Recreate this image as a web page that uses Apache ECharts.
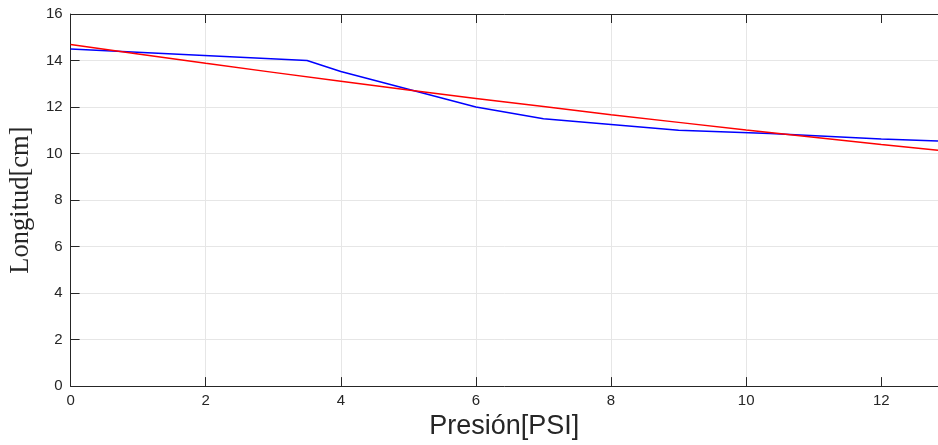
<!DOCTYPE html>
<html>
<head>
<meta charset="utf-8">
<script src="https://cdn.jsdelivr.net/npm/echarts@6/dist/echarts.min.js"></script>
<style>
html,body{margin:0;padding:0;background:#fff;overflow:hidden;}
#chart{width:938px;height:445px;}
</style>
</head>
<body>
<div id="chart"></div>
<script>
// Measured data (blue)
const medidoX = [0, 3.5, 4, 6, 7, 9, 10.35, 12, 12.84];
const medidoY = [14.5, 14.0, 13.53, 12.0, 11.5, 11.0, 10.86, 10.63, 10.54];
// Fitted curve (red)
const ajusteX = [0, 1, 2, 3, 4, 5, 6, 7, 8, 9, 10, 11, 12, 12.84];
const ajusteY = [14.69, 14.28, 13.88, 13.49, 13.11, 12.73, 12.37, 12.02, 11.67, 11.34, 11.01, 10.70, 10.39, 10.14];
const xTicks = [0, 2, 4, 6, 8, 10, 12];
const yTicks = [0, 2, 4, 6, 8, 10, 12, 14, 16];
const xLabel = 'Presión[PSI]';
const yLabel = 'Longitud[cm]';

const axisColor = '#262626';
const gridColor = '#e6e6e6';
const xMax = 12.84;

const chart = echarts.init(document.getElementById('chart'), null, {renderer: 'canvas'});
const pair = (xs, ys) => xs.map((x, i) => [x, ys[i]]);

chart.setOption({
  animation: false,
  grid: {left: 70, right: 0, top: 14, bottom: 55, containLabel: false},
  xAxis: [{
    type: 'value', min: 0, max: xMax, interval: 2,
    name: xLabel, nameLocation: 'middle', nameGap: 26,
    nameTextStyle: {fontFamily: 'Liberation Sans', fontSize: 27, color: axisColor},
    axisLine: {show: true, onZero: false, lineStyle: {color: axisColor, width: 1}},
    axisTick: {show: true, inside: true, length: 9, customValues: xTicks, lineStyle: {color: axisColor}},
    axisLabel: {
      margin: 7, fontFamily: 'Liberation Sans', fontSize: 15, color: axisColor,
      customValues: xTicks
    },
    splitLine: {show: true, showMaxLine: false, lineStyle: {color: gridColor, width: 1}}
  }, {
    type: 'value', min: 0, max: xMax, interval: 2, position: 'top',
    axisLine: {show: true, onZero: false, lineStyle: {color: axisColor, width: 1}},
    axisTick: {show: true, inside: true, length: 9, customValues: xTicks, lineStyle: {color: axisColor}},
    axisLabel: {show: false},
    splitLine: {show: false}
  }],
  yAxis: {
    type: 'value', min: 0, max: 16, interval: 2,
    name: yLabel, nameLocation: 'middle', nameGap: 33, nameRotate: 90,
    nameTextStyle: {fontFamily: 'Liberation Serif', fontSize: 26.5, color: axisColor},
    axisLine: {show: true, onZero: false, lineStyle: {color: axisColor, width: 1}},
    axisTick: {show: true, inside: true, length: 9, lineStyle: {color: axisColor}},
    axisLabel: {
      margin: 8, fontFamily: 'Liberation Sans', fontSize: 15, color: axisColor,
      customValues: yTicks
    },
    splitLine: {show: true, lineStyle: {color: gridColor, width: 1}}
  },
  series: [{
    type: 'line', data: pair(medidoX, medidoY), xAxisIndex: 0,
    showSymbol: false, symbol: 'none', clip: true,
    lineStyle: {color: '#0000ff', width: 1.5}, z: 3
  }, {
    type: 'line', data: pair(ajusteX, ajusteY), xAxisIndex: 0,
    showSymbol: false, symbol: 'none', clip: true, smooth: false,
    lineStyle: {color: '#ff0000', width: 1.5}, z: 4
  }]
});
</script>
</body>
</html>
